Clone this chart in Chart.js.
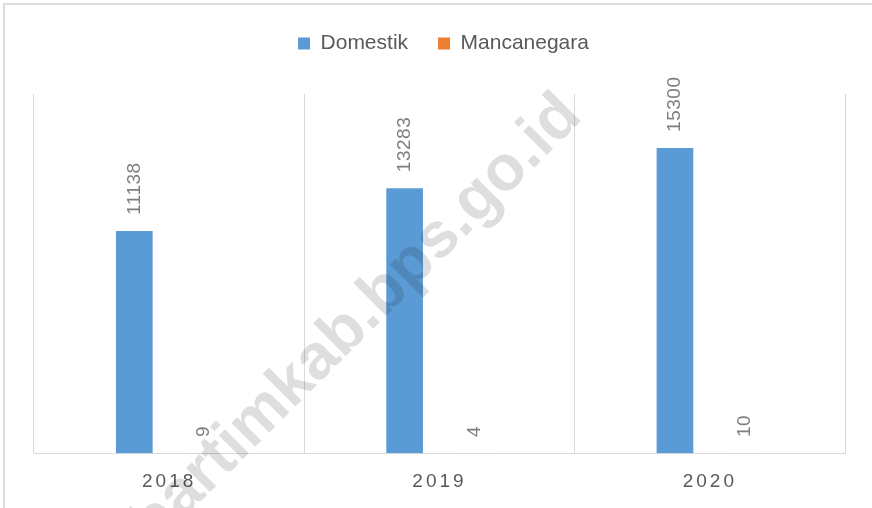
<!DOCTYPE html>
<html>
<head>
<meta charset="utf-8">
<script src="https://cdn.jsdelivr.net/npm/chart.js@4/dist/chart.umd.min.js"></script>
<style>
  html, body { margin: 0; padding: 0; background: #ffffff; }
  #wrap { position: relative; width: 872px; height: 508px; overflow: hidden; }
  #frame { position: absolute; left: 3px; top: 3px; width: 900px; height: 600px;
           border-top: 2px solid #dedede; border-left: 2px solid #dedede; box-sizing: border-box; }
  canvas { position: absolute; left: 0; top: 0; }
</style>
</head>
<body>
<div id="wrap">
  <div id="frame"></div>
  <canvas id="c" width="872" height="508"></canvas>
</div>
<script>
const categories = ['2018', '2019', '2020'];
const seriesNames = ['Domestik', 'Mancanegara'];
const domestik = [11138, 13283, 15300];
const mancanegara = [9, 4, 10];
const watermarkText = 'bartimkab.bps.go.id';

const FONT = "'Liberation Sans', Arial, sans-serif";

const labelPlugin = {
  id: 'barLabels',
  afterLayout(chart) {
    if (chart.legend) {
      chart.legend.left += 4;
      chart.legend.right += 4;
    }
  },
  beforeDraw(chart) {
    chart.ctx.letterSpacing = '0px';
  },
  afterDatasetsDraw(chart) {
    const ctx = chart.ctx;
    ctx.save();
    ctx.letterSpacing = '0.5px';
    ctx.font = '19px ' + FONT;
    ctx.fillStyle = '#7f7f7f';
    ctx.textAlign = 'left';
    ctx.textBaseline = 'middle';
    chart.data.datasets.forEach((ds, di) => {
      const meta = chart.getDatasetMeta(di);
      meta.data.forEach((bar, i) => {
        ctx.save();
        ctx.translate(bar.x, bar.y - 16);
        ctx.rotate(-Math.PI / 2);
        ctx.fillText(String(ds.data[i]), 0, 0);
        ctx.restore();
      });
    });
    ctx.restore();
    // letter spacing for the x tick labels drawn next (z > 0 layer)
    ctx.letterSpacing = '3px';
  },
  afterDraw(chart) {
    const ctx = chart.ctx;
    ctx.letterSpacing = '0px';
    ctx.save();
    ctx.translate(369, 333);
    ctx.rotate(-Math.PI / 4);
    ctx.font = 'bold 64px ' + FONT;
    ctx.fillStyle = 'rgba(0,0,0,0.13)';
    ctx.textAlign = 'center';
    ctx.textBaseline = 'alphabetic';
    ctx.fillText(watermarkText, 0, 0);
    ctx.restore();
  }
};

new Chart(document.getElementById('c'), {
  type: 'bar',
  data: {
    labels: categories,
    datasets: [
      { label: seriesNames[0], data: domestik, backgroundColor: '#5b9bd5',
        categoryPercentage: 0.516, barPercentage: 0.526 },
      { label: seriesNames[1], data: mancanegara, backgroundColor: '#ed7d31',
        categoryPercentage: 0.516, barPercentage: 0.526 }
    ]
  },
  options: {
    responsive: false,
    animation: false,
    devicePixelRatio: 1,
    layout: { padding: { top: 3, left: 34, right: 27, bottom: -2 } },
    plugins: {
      legend: {
        display: true,
        position: 'top',
        labels: {
          boxWidth: 12, boxHeight: 12, padding: 30,
          color: '#595959',
          font: { family: FONT, size: 21 }
        }
      },
      title: {
        display: true,
        text: ' ',
        weight: 500,
        position: 'top',
        font: { size: 10 },
        padding: { top: 0, bottom: 18 }
      },
      tooltip: { enabled: false }
    },
    scales: {
      x: {
        grid: { display: true, color: '#d9d9d9', lineWidth: 1, drawTicks: false, offset: true },
        border: { display: true, color: '#d9d9d9', width: 1 },
        ticks: { color: '#595959', font: { family: FONT, size: 19 }, padding: 17, z: 1 }
      },
      y: {
        display: false,
        min: 0,
        max: 18000
      }
    }
  },
  plugins: [labelPlugin]
});
</script>
</body>
</html>
